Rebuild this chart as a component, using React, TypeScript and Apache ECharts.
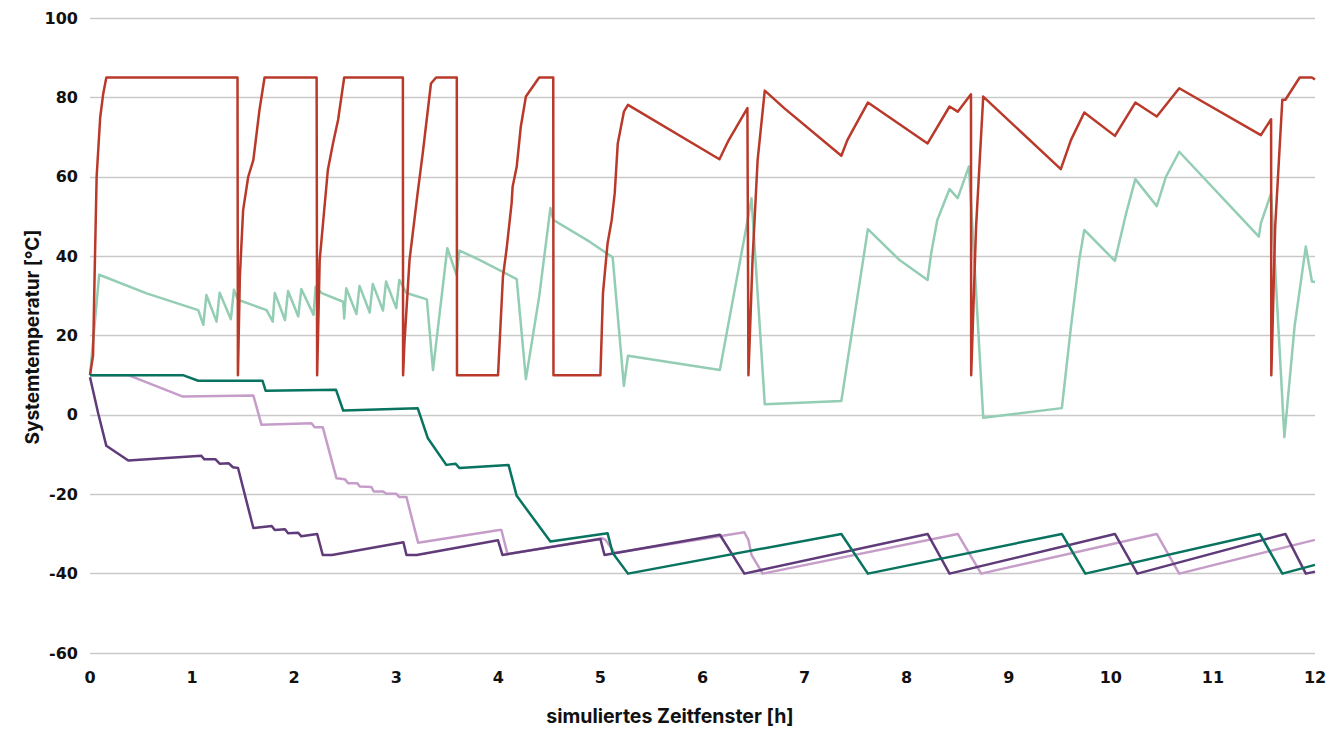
import React, { useEffect, useRef } from "react";
import * as echarts from "echarts";

const xTicks = [0, 1, 2, 3, 4, 5, 6, 7, 8, 9, 10, 11, 12];
const yTicks = [-60, -40, -20, 0, 20, 40, 60, 80, 100];
const xTitle = "simuliertes Zeitfenster [h]";
const yTitle = "Systemtemperatur [°C]";

const redSeries: number[][] = [
  [0, 10], [0.03, 15], [0.045, 35], [0.065, 60], [0.1, 75], [0.13, 81], [0.16, 85],
  [1.445, 85], [1.449, 10], [1.452, 10], [1.468, 34.8], [1.5, 51.6], [1.55, 60], [1.6, 64.2], [1.66, 76.8], [1.71, 85],
  [2.22, 85], [2.225, 10], [2.25, 39], [2.33, 61.7], [2.38, 68.4], [2.43, 74.3], [2.49, 85],
  [3.065, 85], [3.067, 10], [3.08, 18], [3.13, 39], [3.21, 56], [3.26, 66], [3.34, 83.5], [3.39, 85],
  [3.593, 85], [3.595, 10], [3.997, 10], [4.045, 34.8], [4.08, 41.6], [4.13, 53.3], [4.14, 57.5], [4.18, 62.5],
  [4.22, 72.6], [4.27, 80.2], [4.4, 85], [4.538, 85], [4.54, 10], [5.0, 10], [5.025, 30.7], [5.07, 43.2],
  [5.11, 49], [5.14, 55.8], [5.17, 68.4], [5.23, 76.4], [5.27, 78.1], [6.166, 64.4], [6.25, 68.9], [6.44, 77.3],
  [6.45, 10], [6.49, 39], [6.54, 64.2], [6.61, 81.7], [6.8, 77.3], [7.36, 65.3], [7.42, 69.3], [7.62, 78.7],
  [8.205, 68.4], [8.42, 77.7], [8.5, 76.4], [8.63, 80.8], [8.632, 10], [8.68, 47.4], [8.75, 80.2],
  [9.51, 61.9], [9.61, 69.3], [9.74, 76.2], [10.04, 70.3], [10.24, 78.7], [10.45, 75.2], [10.67, 82.3],
  [11.47, 70.5], [11.57, 74.5], [11.572, 10], [11.61, 47.4], [11.68, 79.4], [11.71, 79.4], [11.85, 85],
  [11.97, 85], [12, 84.5],
];

const mintSeries: number[][] = [
  [0, 10], [0.09, 35.3], [0.555, 30.6], [1.06, 26.4], [1.11, 22.7], [1.14, 30.2], [1.24, 23.5], [1.27, 30.8],
  [1.38, 24.1], [1.41, 31.5], [1.45, 29], [1.73, 26.4], [1.79, 23.5], [1.81, 30.7], [1.91, 23.9], [1.94, 31.2],
  [2.04, 24.8], [2.07, 31.7], [2.19, 25.2], [2.21, 32.3], [2.27, 30.7], [2.48, 28.5], [2.49, 24.3], [2.51, 31.9],
  [2.61, 25.4], [2.64, 32.5], [2.74, 25.8], [2.77, 33], [2.87, 26.3], [2.9, 33.6], [3.0, 26.9], [3.03, 34],
  [3.1, 30.7], [3.3, 29.1], [3.36, 11.3], [3.5, 42], [3.59, 35.3], [3.62, 41.4], [3.82, 39], [4.18, 34.2],
  [4.27, 9], [4.4, 29.8], [4.51, 52.1], [4.54, 49.1], [4.89, 43.7], [5.12, 39.7], [5.23, 7.3], [5.27, 14.9],
  [6.17, 11.3], [6.43, 47.4], [6.48, 54.6], [6.61, 2.7], [7.36, 3.5], [7.62, 46.8], [7.93, 39], [8.205, 34],
  [8.24, 40.7], [8.3, 49.1], [8.42, 56.9], [8.5, 54.6], [8.61, 62.6], [8.75, -0.7], [9.52, 1.7], [9.61, 22.3],
  [9.69, 39], [9.74, 46.6], [10.04, 38.8], [10.15, 50.8], [10.24, 59.4], [10.45, 52.6], [10.54, 60],
  [10.67, 66.3], [11.45, 44.9], [11.47, 48.3], [11.57, 55.8], [11.7, -5.6], [11.8, 22.3], [11.91, 42.4],
  [11.97, 33.6], [12, 33.5],
];

const tealSeries: number[][] = [
  [0, 10], [0.91, 10], [1.06, 8.6], [1.69, 8.6], [1.72, 6.1], [2.41, 6.3], [2.48, 1.1], [3.21, 1.7],
  [3.31, -5.9], [3.49, -12.6], [3.58, -12.3], [3.62, -13.4], [4.1, -12.6], [4.18, -20.4], [4.51, -31.9],
  [5.07, -29.8], [5.12, -34.8], [5.27, -40], [7.36, -30], [7.62, -40], [9.52, -30], [9.75, -40],
  [11.46, -30], [11.68, -40], [12, -37.8],
];

const lilacSeries: number[][] = [
  [0, 10], [0.375, 10], [0.91, 4.6], [1.6, 4.9], [1.68, -2.5], [2.17, -2.1], [2.2, -3.1], [2.28, -3.1],
  [2.414, -15.95], [2.496, -16.2], [2.528, -17.2], [2.617, -17.2], [2.643, -18.06], [2.757, -18.2],
  [2.78, -19.3], [2.871, -19.3], [2.904, -19.9], [3.002, -19.9], [3.028, -20.7], [3.1, -20.7], [3.214, -32.2],
  [4.01, -29], [4.03, -29], [4.09, -35.1], [5.02, -31.1], [5.05, -31.5], [5.14, -34.8], [6.41, -29.6],
  [6.45, -31.5], [6.48, -35.3], [6.59, -40], [8.5, -30], [8.73, -40], [10.45, -30], [10.67, -40], [12, -31.5],
];

const purpleSeries: number[][] = [
  [0, 9.5], [0.08, 0.4], [0.16, -7.8], [0.375, -11.5], [1.09, -10.3], [1.12, -11.2], [1.23, -11.2],
  [1.27, -12.3], [1.36, -12.2], [1.4, -13.2], [1.45, -13.4], [1.6, -28.5], [1.78, -28], [1.81, -29],
  [1.91, -28.8], [1.94, -29.8], [2.04, -29.7], [2.07, -30.6], [2.225, -30], [2.28, -35.3], [2.37, -35.3],
  [3.07, -32.1], [3.1, -35.3], [3.2, -35.3], [3.997, -31.6], [4.04, -35.3], [5.0, -31.3], [5.04, -35.3],
  [6.17, -30.2], [6.41, -40], [8.205, -30], [8.42, -40], [10.04, -30], [10.26, -40], [11.71, -30],
  [11.91, -40], [12, -39.5],
];

const tickFont = "'DejaVu Sans', sans-serif";
const titleFont = "Inter, 'Liberation Sans', sans-serif";

function line(name: string, data: number[][], color: string, width: number, z: number) {
  return {
    name,
    type: "line",
    data,
    showSymbol: false,
    symbol: "none",
    z,
    lineStyle: { color, width, join: "round" },
    itemStyle: { color },
  };
}

export default function App() {
  const ref = useRef<HTMLDivElement>(null);
  useEffect(() => {
    if (!ref.current) return;
    const chart = echarts.init(ref.current, undefined, { renderer: "svg" });
    chart.setOption({
      animation: false,
      backgroundColor: "#ffffff",
      grid: { left: 90, right: 19, top: 18, bottom: 76, containLabel: false },
      xAxis: {
        type: "value",
        min: xTicks[0],
        max: xTicks[xTicks.length - 1],
        interval: 1,
        axisLine: { show: false },
        axisTick: { show: false },
        splitLine: { show: false },
        axisLabel: {
          color: "#111",
          fontFamily: tickFont,
          fontWeight: "bold",
          fontSize: 16,
          margin: 16,
        },
      },
      yAxis: {
        type: "value",
        min: yTicks[0],
        max: yTicks[yTicks.length - 1],
        interval: 20,
        axisLine: { show: false },
        axisTick: { show: false },
        splitLine: { show: true, lineStyle: { color: "#c9c9c9", width: 1.3 } },
        axisLabel: {
          color: "#111",
          fontFamily: tickFont,
          fontWeight: "bold",
          fontSize: 16,
          margin: 12,
        },
      },
      graphic: [
        {
          type: "text",
          x: 670,
          y: 716,
          style: {
            text: xTitle,
            fill: "#111",
            font: `bold 19.5px ${titleFont}`,
            textAlign: "center",
            textVerticalAlign: "middle",
          },
        },
        {
          type: "text",
          x: 32,
          y: 337,
          rotation: Math.PI / 2,
          style: {
            text: yTitle,
            fill: "#111",
            font: `bold 19px ${titleFont}`,
            textAlign: "center",
            textVerticalAlign: "middle",
          },
        },
      ],
      series: [
        line("mint", mintSeries, "#93CDB3", 2.5, 2),
        line("red", redSeries, "#B9392A", 2.5, 3),
        line("lilac", lilacSeries, "#C69DC9", 2.5, 4),
        line("purple", purpleSeries, "#603B7A", 2.5, 5),
        line("teal", tealSeries, "#08735F", 2.5, 6),
      ],
    });
    return () => chart.dispose();
  }, []);
  return (
    <div
      ref={ref}
      style={{ position: "fixed", left: 0, top: 0, width: 1334, height: 729, background: "#fff" }}
    />
  );
}
